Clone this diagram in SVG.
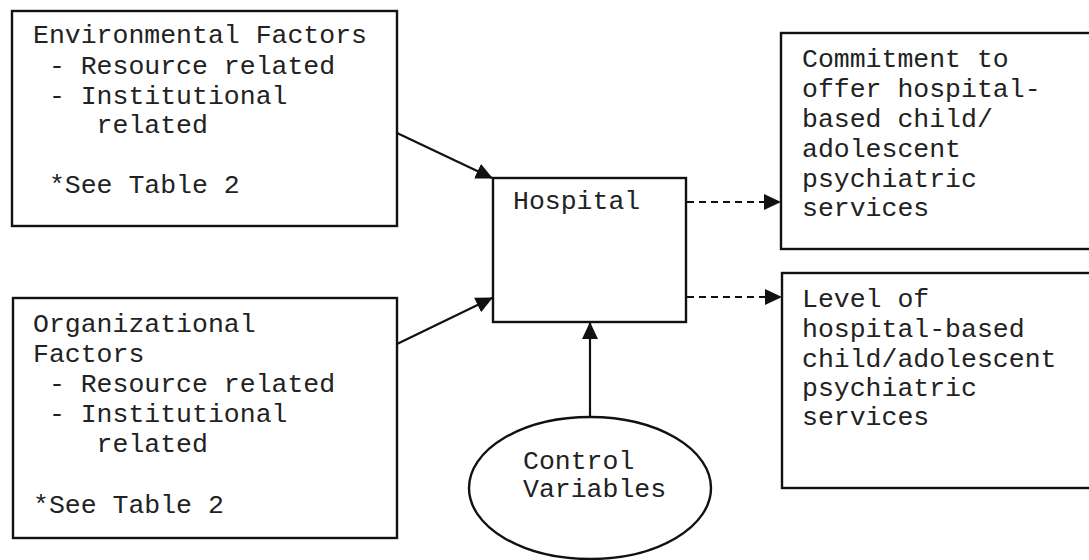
<svg xmlns="http://www.w3.org/2000/svg" width="1089" height="560" viewBox="0 0 1089 560">
<style>
.box{fill:#fff;stroke:#111;stroke-width:2.4}
.t{font-family:"Liberation Mono","Courier New",monospace;font-size:26.5px;fill:#222;white-space:pre}
.ln{stroke:#111;stroke-width:2.2;fill:none}
.dash{stroke-dasharray:7,5}
</style>
<defs>
<marker id="ah" markerUnits="userSpaceOnUse" markerWidth="17" markerHeight="17" viewBox="0 0 17 16" refX="16" refY="8" orient="auto">
<path d="M0,0 L17,8 L0,16 z" fill="#111"/>
</marker>
</defs>
<rect width="1089" height="560" fill="#fff"/>
<g id="env">
<rect class="box" x="12" y="11" width="385" height="215"/>
<text class="t" xml:space="preserve"><tspan x="33" y="43">Environmental Factors</tspan><tspan x="33" y="74"> - Resource related</tspan><tspan x="33" y="104"> - Institutional</tspan><tspan x="33" y="133">    related</tspan><tspan x="33" y="193"> *See Table 2</tspan></text>
</g>
<g id="org">
<rect class="box" x="13" y="298" width="384" height="240"/>
<text class="t" xml:space="preserve"><tspan x="33" y="332">Organizational</tspan><tspan x="33" y="362">Factors</tspan><tspan x="33" y="392"> - Resource related</tspan><tspan x="33" y="422"> - Institutional</tspan><tspan x="33" y="452">    related</tspan><tspan x="33" y="513">*See Table 2</tspan></text>
</g>
<g id="hospital">
<rect class="box" x="493" y="178" width="193" height="144"/>
<text class="t" x="513" y="209">Hospital</text>
</g>
<g id="commit">
<rect class="box" x="781" y="33" width="320" height="216"/>
<text class="t"><tspan x="802" y="67">Commitment to</tspan><tspan x="802" y="97">offer hospital-</tspan><tspan x="802" y="127">based child/</tspan><tspan x="802" y="157">adolescent</tspan><tspan x="802" y="187">psychiatric</tspan><tspan x="802" y="216">services</tspan></text>
</g>
<g id="level">
<rect class="box" x="782" y="273" width="320" height="215"/>
<text class="t"><tspan x="802" y="307">Level of</tspan><tspan x="802" y="337">hospital-based</tspan><tspan x="802" y="367">child/adolescent</tspan><tspan x="802" y="396">psychiatric</tspan><tspan x="802" y="425">services</tspan></text>
</g>
<g id="control">
<ellipse class="box" cx="590" cy="488" rx="121" ry="71"/>
<text class="t"><tspan x="523" y="469">Control</tspan><tspan x="523" y="497">Variables</tspan></text>
</g>
<g id="connectors">
<line class="ln" x1="397" y1="133" x2="492" y2="178" marker-end="url(#ah)"/>
<line class="ln" x1="397" y1="344" x2="492" y2="298" marker-end="url(#ah)"/>
<line class="ln" x1="590" y1="417" x2="590" y2="323" marker-end="url(#ah)"/>
<line class="ln dash" x1="687" y1="202" x2="780" y2="202" marker-end="url(#ah)"/>
<line class="ln dash" x1="687" y1="297" x2="781" y2="297" marker-end="url(#ah)"/>
</g>
</svg>
